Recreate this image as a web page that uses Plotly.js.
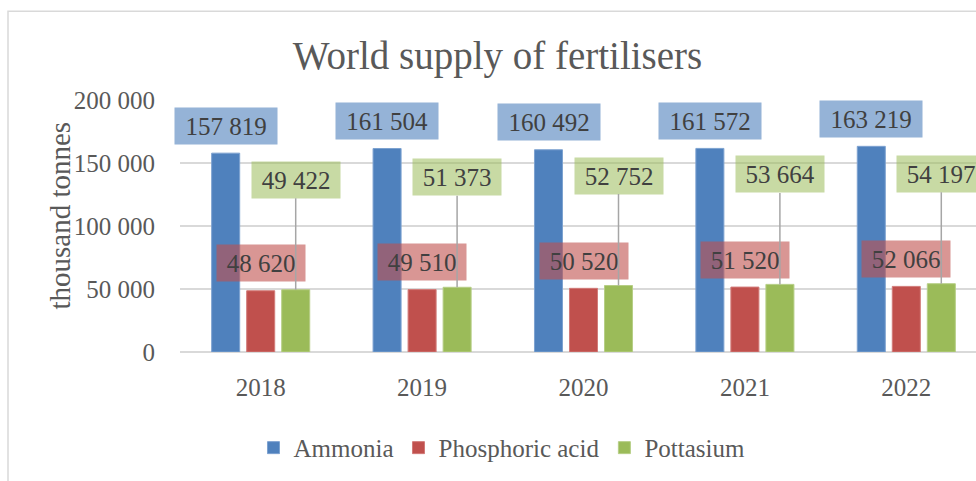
<!DOCTYPE html>
<html>
<head>
<meta charset="utf-8">
<script src="https://cdn.plot.ly/plotly-3.0.1.min.js"></script>
<style>
  html, body { margin: 0; padding: 0; background: #fff; overflow: hidden; }
  #wrap { width: 976px; height: 481px; overflow: hidden; position: relative; }
  #chart { width: 1000px; height: 481px; }
</style>
</head>
<body>
<div id="wrap"><div id="chart"></div></div>
<script>
const years = ['2018', '2019', '2020', '2021', '2022'];
const ammonia = [157819, 161504, 160492, 161572, 163219];
const phosphoricAcid = [48620, 49510, 50520, 51520, 52066];
const pottasium = [49422, 51373, 52752, 53664, 54197];
const seriesNames = ['Ammonia', 'Phosphoric acid', 'Pottasium'];
const yTicks = [0, 50000, 100000, 150000, 200000];
const yTitle = 'thousand tonnes';

const FONT = 'Liberation Serif';
const colors = ['#4F81BD', '#C0504D', '#9BBB59'];
const edge = ['#7DA2D0', '#D27B79', '#B6CE86'];
const boxFill = ['rgba(79,129,189,0.6)', 'rgba(192,80,77,0.6)', 'rgba(155,187,89,0.55)'];

function fmt(v) { return String(v).replace(/\B(?=(\d{3})+(?!\d))/g, ' '); }

const allSeries = [ammonia, phosphoricAcid, pottasium];
const traces = allSeries.map((vals, i) => ({
  type: 'bar',
  name: seriesNames[i],
  x: years,
  y: vals,
  marker: { color: colors[i], line: { color: edge[i], width: 1 } },
  hoverinfo: 'skip'
}));

const shifts = [-35, 0, 35];
const annotations = [];
allSeries.forEach((vals, s) => {
  vals.forEach((v, k) => {
    const txt = fmt(v);
    const a = {
      x: k, y: v, xref: 'x', yref: 'y',
      text: txt,
      font: { family: FONT, size: 25, color: '#404040' },
      bgcolor: boxFill[s],
      borderpad: 1,
      width: 14 * txt.length + 2,
      height: 34,
      xshift: shifts[s]
    };
    if (s === 2) {
      Object.assign(a, {
        showarrow: true, ax: 0, ay: -110, axref: 'pixel', ayref: 'pixel',
        arrowhead: 0, arrowwidth: 1.5, arrowcolor: '#A6A6A6', standoff: 0
      });
    } else {
      Object.assign(a, { showarrow: false, yanchor: 'bottom', yshift: 8.5 });
    }
    annotations.push(a);
  });
});

// y axis title (placed as rotated text to match the original position)
annotations.push({
  xref: 'paper', yref: 'paper', x: (60 - 180) / 807, y: (353 - 216) / 253,
  xanchor: 'center', yanchor: 'middle', textangle: -90, showarrow: false,
  text: yTitle, font: { family: FONT, size: 29, color: '#595959' }
});

const layout = {
  width: 1000, height: 481,
  margin: { l: 180, r: 13, t: 100, b: 128 },
  paper_bgcolor: '#fff', plot_bgcolor: '#fff',
  separators: '. ',
  font: { family: FONT, color: '#595959', size: 25 },
  title: {
    text: 'World supply of fertilisers',
    font: { family: FONT, size: 39, color: '#595959' },
    xref: 'container', yref: 'container', x: 0.4975, y: 1 - 55 / 481,
    xanchor: 'center', yanchor: 'middle'
  },
  barmode: 'group',
  bargap: 0.349,
  bargroupgap: 0.2,
  showlegend: true,
  legend: {
    orientation: 'h', x: 0.399, xanchor: 'center', y: -0.375, yanchor: 'middle',
    font: { family: FONT, size: 25, color: '#595959' },
    itemwidth: 30, traceorder: 'normal'
  },
  xaxis: {
    type: 'category', fixedrange: true, range: [-0.5, 4.5], autorange: false,
    tickfont: { family: FONT, size: 25, color: '#595959' },
    ticks: 'outside', ticklen: 13, tickcolor: 'rgba(0,0,0,0)',
    showline: false, showgrid: false
  },
  yaxis: {
    range: [0, 200000], autorange: false, fixedrange: true,
    tickvals: yTicks, tickformat: ',d',
    tickfont: { family: FONT, size: 25, color: '#595959' },
    ticks: 'outside', ticklen: 19, tickcolor: 'rgba(0,0,0,0)',
    showgrid: true, gridcolor: '#D9D9D9', gridwidth: 1.5,
    zeroline: true, zerolinecolor: '#D9D9D9', zerolinewidth: 1.5
  },
  annotations: annotations,
  shapes: [{
    type: 'rect', xref: 'paper', yref: 'paper',
    x0: (8 - 180) / 807, x1: 1.2, y0: -1, y1: (353 - 11) / 253,
    line: { color: '#D9D9D9', width: 1.5 }, fillcolor: 'rgba(0,0,0,0)', layer: 'below'
  }],
  hovermode: false
};

Plotly.newPlot('chart', traces, layout, { displayModeBar: false, staticPlot: true });
</script>
</body>
</html>
